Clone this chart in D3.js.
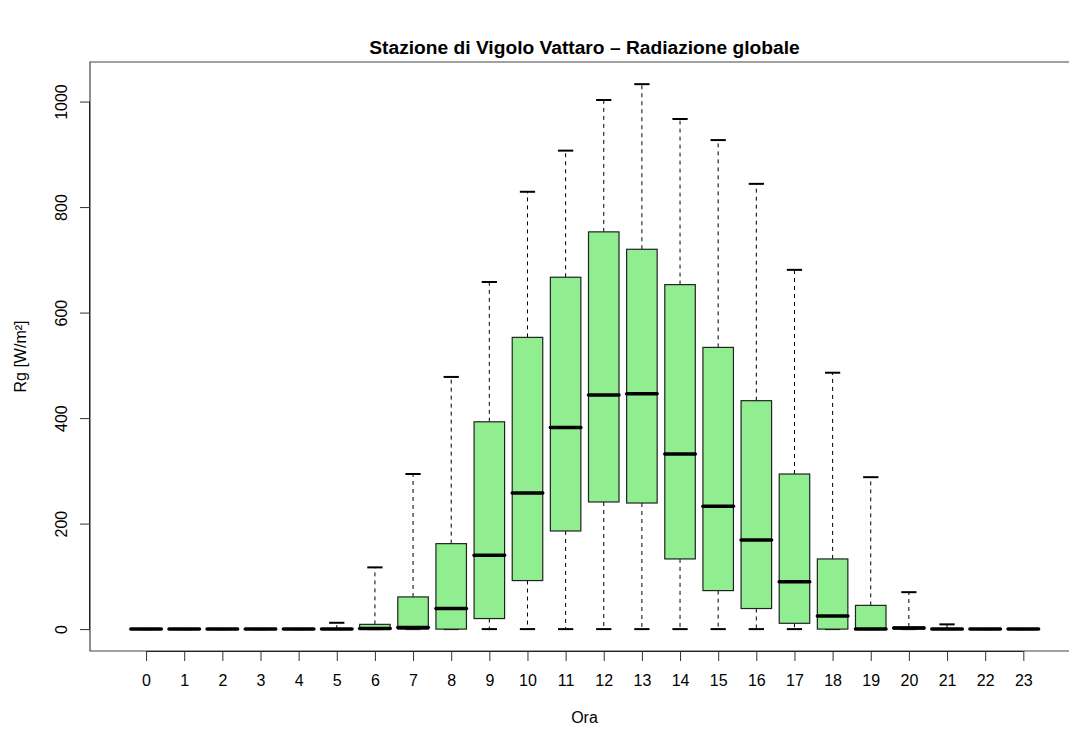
<!DOCTYPE html>
<html>
<head>
<meta charset="utf-8">
<script src="https://cdn.jsdelivr.net/npm/d3@7"></script>
<style>
  html, body { margin: 0; padding: 0; background: #fff; overflow: hidden; }
  svg { display: block; }
  svg text { font-family: "Liberation Sans", Arial, Helvetica, sans-serif; }
</style>
</head>
<body>
<svg id="chart" width="1069" height="729"></svg>
<script>
// ---- data ----
const hours   = [0,1,2,3,4,5,6,7,8,9,10,11,12,13,14,15,16,17,18,19,20,21,22,23];
const whiskLo = [0,0,0,0,0,0,0,0,0,0,0,0,0,0,0,0,0,0,0,0,0,0,0,0];
const q1      = [0,0,0,0,0,0,0,0,0,20,92,186,241,239,133,73,39,11,0,0,0,0,0,0];
const median  = [0,0,0,0,0,0,1,3,39,140,258,382,444,446,332,233,169,90,25,0,2,0,0,0];
const q3      = [0,0,0,0,0,0,9,61,162,393,553,667,753,720,653,534,433,294,133,45,4,1,0,0];
const whiskHi = [0,0,0,0,0,12,117,294,478,658,829,907,1003,1033,967,927,844,681,486,288,70,9,0,0];
const yTicks  = [0,200,400,600,800,1000];

const titleText = "Stazione di Vigolo Vattaro \u2013 Radiazione globale";
const xLabel = "Ora";
const yLabel = "Rg [W/m\u00B2]";

// ---- layout ----
const svg = d3.select("#chart");
const frame = {left: 90, top: 62, right: 1079, bottom: 651};

const x = d3.scaleLinear().domain([-1.47, 24.46]).range([frame.left, frame.right]);
const y = d3.scaleLinear().domain([-41.5, 1075]).range([frame.bottom, frame.top]);
const step = x(1) - x(0);
const boxW = step * 0.8;
const capW = boxW * 0.5;
const fs = 16;

const data = hours.map((h, i) => ({h, lo: whiskLo[i], q1: q1[i], med: median[i], q3: q3[i], hi: whiskHi[i]}));

const g = svg.append("g");

// whiskers (dashed)
g.selectAll(".wu").data(data.filter(d => d.hi > d.q3)).enter().append("line")
  .attr("x1", d => x(d.h)).attr("x2", d => x(d.h))
  .attr("y1", d => y(d.q3)).attr("y2", d => y(d.hi))
  .attr("stroke", "#000").attr("stroke-width", 1).attr("stroke-dasharray", "4,4");
g.selectAll(".wl").data(data.filter(d => d.q1 > d.lo)).enter().append("line")
  .attr("x1", d => x(d.h)).attr("x2", d => x(d.h))
  .attr("y1", d => y(d.q1)).attr("y2", d => y(d.lo))
  .attr("stroke", "#000").attr("stroke-width", 1).attr("stroke-dasharray", "4,4");

// caps
g.selectAll(".cu").data(data).enter().append("line")
  .attr("x1", d => x(d.h) - capW/2).attr("x2", d => x(d.h) + capW/2)
  .attr("y1", d => y(d.hi)).attr("y2", d => y(d.hi))
  .attr("stroke", "#000").attr("stroke-width", 2);
g.selectAll(".cl").data(data).enter().append("line")
  .attr("x1", d => x(d.h) - capW/2).attr("x2", d => x(d.h) + capW/2)
  .attr("y1", d => y(d.lo)).attr("y2", d => y(d.lo))
  .attr("stroke", "#000").attr("stroke-width", 2);

// boxes
g.selectAll(".box").data(data).enter().append("rect")
  .attr("x", d => x(d.h) - boxW/2)
  .attr("width", boxW)
  .attr("y", d => y(d.q3))
  .attr("height", d => Math.max(0, y(d.q1) - y(d.q3)))
  .attr("fill", "#90EE90").attr("stroke", "#222").attr("stroke-width", 1.2);

// medians
g.selectAll(".med").data(data).enter().append("line")
  .attr("x1", d => x(d.h) - boxW/2).attr("x2", d => x(d.h) + boxW/2)
  .attr("y1", d => y(d.med)).attr("y2", d => y(d.med))
  .attr("stroke", "#000").attr("stroke-width", 3.5).attr("stroke-linecap", "round");

// frame (right side lies beyond the picture edge)
svg.append("path")
  .attr("d", `M${frame.right + 20},${frame.top}H${frame.left}V${frame.bottom}H${frame.right + 20}`)
  .attr("fill", "none").attr("stroke", "#444").attr("stroke-width", 1.2);

// x axis
const xAxis = d3.axisBottom(x).tickValues(hours).tickSize(10).tickPadding(14).tickFormat(d3.format("d"));
const gx = svg.append("g").attr("transform", `translate(0,${frame.bottom})`).call(xAxis);
gx.select(".domain").attr("d", `M${x(hours[0])},0.5H${x(hours[hours.length-1])}`).attr("stroke", "#222");
gx.selectAll(".tick line").attr("stroke", "#333");
gx.selectAll(".tick text").attr("font-size", fs).attr("fill", "#000")
  .attr("font-family", "Liberation Sans, Arial, sans-serif");

// y axis
const yAxis = d3.axisLeft(y).tickValues(yTicks).tickSize(10).tickFormat(d3.format("d"));
const gy = svg.append("g").attr("transform", `translate(${frame.left},0)`).call(yAxis);
gy.select(".domain").attr("d", `M-0.5,${y(yTicks[0])}V${y(yTicks[yTicks.length-1])}`).attr("stroke", "#222");
gy.selectAll(".tick line").attr("stroke", "#333");
gy.selectAll(".tick text")
  .attr("font-size", fs).attr("fill", "#000")
  .attr("font-family", "Liberation Sans, Arial, sans-serif")
  .attr("x", null).attr("dy", null)
  .attr("text-anchor", "middle")
  .attr("transform", "translate(-23,0) rotate(-90)");

// title
svg.append("text")
  .attr("x", (frame.left + frame.right) / 2).attr("y", 54)
  .attr("text-anchor", "middle").attr("font-weight", "bold").attr("font-size", 19.2)
  .text(titleText);

// axis labels
svg.append("text")
  .attr("x", (frame.left + frame.right) / 2).attr("y", 723)
  .attr("text-anchor", "middle").attr("font-size", fs)
  .text(xLabel);
svg.append("text")
  .attr("transform", `translate(26,${(frame.top + frame.bottom)/2}) rotate(-90)`)
  .attr("text-anchor", "middle").attr("font-size", fs)
  .text(yLabel);
</script>
</body>
</html>
